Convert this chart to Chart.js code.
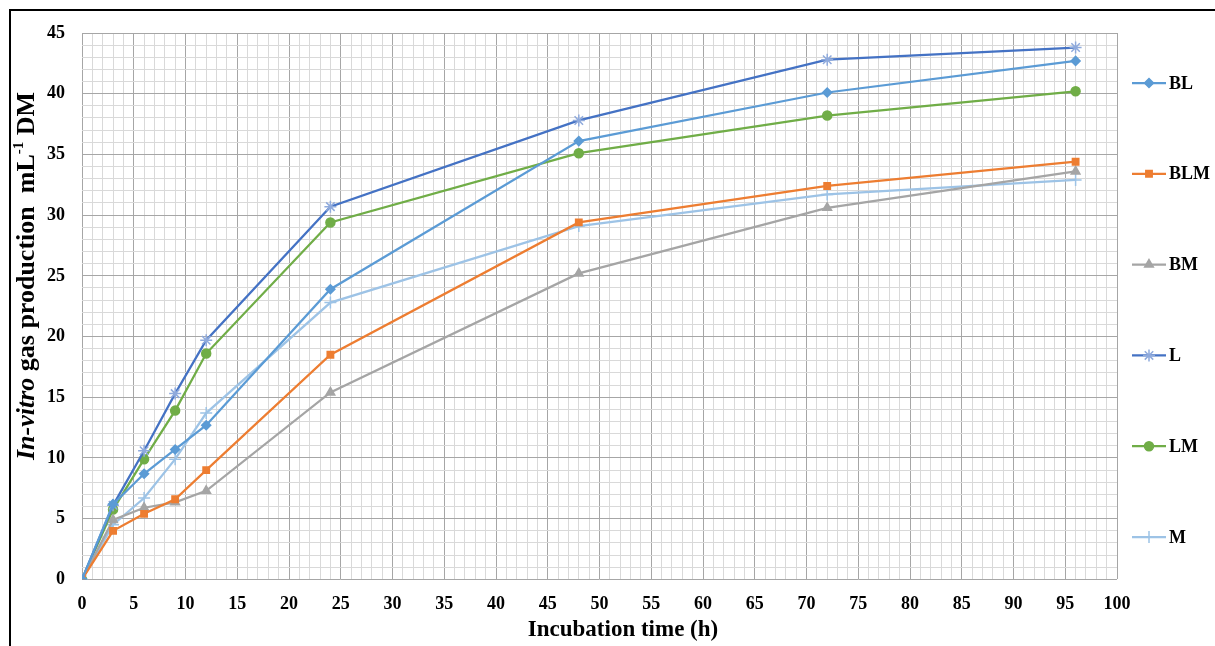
<!DOCTYPE html>
<html>
<head>
<meta charset="utf-8">
<script src="https://cdn.jsdelivr.net/npm/chart.js@4.4.0/dist/chart.umd.min.js"></script>
<style>
  body { margin: 0; background: #fff; }
  #wrap { width: 1215px; height: 646px; position: relative; }
</style>
</head>
<body>
<div id="wrap"><canvas id="gasChart"></canvas></div>
<script>
// Incubation times (h) and gas production per treatment
const hours = [0, 3, 6, 9, 12, 24, 48, 72, 96];
const seriesNames = ['BL', 'BLM', 'BM', 'L', 'LM', 'M'];
const bl  = [0, 6.2, 8.7, 10.7, 12.7, 23.9, 36.1, 40.1, 42.7];
const blm = [0, 4.0, 5.4, 6.6, 9.0, 18.5, 29.4, 32.4, 34.4];
const bm  = [0, 4.9, 5.9, 6.35, 7.3, 15.4, 25.2, 30.6, 33.6];
const l   = [0, 6.1, 10.6, 15.3, 19.7, 30.7, 37.8, 42.8, 43.8];
const lm  = [0, 5.75, 9.9, 13.9, 18.6, 29.4, 35.1, 38.2, 40.2];
const m   = [0, 4.5, 6.7, 9.9, 13.7, 22.8, 29.1, 31.7, 32.9];

const serif = '"Liberation Serif", "Times New Roman", serif';

// estilo de cada série
const styles = [
    { color: '#5B9BD5', mark: '#5B9BD5', pointStyle: 'rectRot', radius: 4.5 },
    { color: '#ED7D31', mark: '#ED7D31', pointStyle: 'rect', radius: 4.5 },
    { color: '#A5A5A5', mark: '#A5A5A5', pointStyle: 'triangle', radius: 5 },
    { color: '#4472C4', mark: '#8FAADC', pointStyle: 'star', radius: 6 },
    { color: '#70AD47', mark: '#70AD47', pointStyle: 'circle', radius: 4.5 },
    { color: '#9DC3E6', mark: '#9DC3E6', pointStyle: 'cross', radius: 6 }
];

const values = [bl, blm, bm, l, lm, m];

function toPoints(vals) {
    return hours.map((h, i) => ({ x: h, y: vals[i] }));
}

const datasets = seriesNames.map((name, i) => ({
    label: name,
    data: toPoints(values[i]),
    borderColor: styles[i].color,
    backgroundColor: styles[i].mark,
    pointBackgroundColor: styles[i].mark,
    pointBorderColor: styles[i].mark,
    pointStyle: styles[i].pointStyle,
    pointRadius: styles[i].radius,
    pointBorderWidth: 1.5,
    borderWidth: 2.25,
    tension: 0
}));

// Grade: linhas menores a cada 1, maiores a cada 5
function gridColor(ctx) {
    if (!ctx.tick) return '#d9d9d9';
    return ctx.tick.value % 5 === 0 ? '#a6a6a6' : '#d9d9d9';
}

function everyFive(value) {
    return value % 5 === 0 ? value : '';
}

// Moldura externa (só topo e esquerda aparecem no recorte)
const framePlugin = {
    id: 'frame',
    beforeDraw(chart) {
        const ctx = chart.ctx;
        ctx.save();
        ctx.strokeStyle = '#000';
        ctx.lineWidth = 2;
        ctx.beginPath();
        ctx.moveTo(10, chart.height + 5);
        ctx.lineTo(10, 10);
        ctx.lineTo(chart.width + 5, 10);
        ctx.stroke();
        ctx.restore();
    }
};

// Títulos dos eixos (Y com itálico e sobrescrito)
const axisTitlePlugin = {
    id: 'axisTitles',
    afterDraw(chart) {
        const ctx = chart.ctx;
        const parts = [
            { t: 'In-vitro', f: 'italic bold 26px ' + serif, dy: 0 },
            { t: ' gas production  mL', f: 'bold 26px ' + serif, dy: 0 },
            { t: '-1', f: 'bold 15px ' + serif, dy: -8 },
            { t: ' DM', f: 'bold 26px ' + serif, dy: 0 }
        ];
        let total = 0;
        parts.forEach(p => { ctx.font = p.f; p.w = ctx.measureText(p.t).width; total += p.w; });
        ctx.save();
        ctx.translate(27, 276);
        ctx.rotate(-Math.PI / 2);
        ctx.fillStyle = '#000';
        ctx.textBaseline = 'middle';
        ctx.textAlign = 'left';
        let x = -total / 2;
        parts.forEach(p => {
            ctx.font = p.f;
            ctx.fillText(p.t, x, p.dy);
            x += p.w;
        });
        ctx.restore();

        ctx.save();
        ctx.fillStyle = '#000';
        ctx.font = 'bold 23px ' + serif;
        ctx.textAlign = 'center';
        ctx.textBaseline = 'middle';
        ctx.fillText('Incubation time (h)', 623, 630);
        ctx.restore();
    }
};

// Legenda à direita: linha + marcador
const legendPlugin = {
    id: 'sideLegend',
    afterDraw(chart) {
        const ctx = chart.ctx;
        const area = chart.chartArea;
        const x0 = area.right + 15;
        const x1 = x0 + 34;
        chart.data.datasets.forEach((ds, i) => {
            const y = area.top + 50 + i * 90.8;
            ctx.save();
            ctx.strokeStyle = ds.borderColor;
            ctx.lineWidth = 2.25;
            ctx.beginPath();
            ctx.moveTo(x0, y);
            ctx.lineTo(x1, y);
            ctx.stroke();
            ctx.fillStyle = ds.pointBackgroundColor;
            ctx.strokeStyle = ds.pointBorderColor;
            ctx.lineWidth = 1.5;
            if (Chart.helpers && Chart.helpers.drawPoint) {
                Chart.helpers.drawPoint(ctx, {
                    pointStyle: ds.pointStyle,
                    radius: ds.pointRadius,
                    rotation: 0,
                    borderWidth: 1.5
                }, (x0 + x1) / 2, y);
            }
            ctx.fillStyle = '#000';
            ctx.font = 'bold 18px ' + serif;
            ctx.textBaseline = 'middle';
            ctx.textAlign = 'left';
            ctx.fillText(ds.label, x1 + 3, y + 1);
            ctx.restore();
        });
    }
};

const ctx = document.getElementById('gasChart').getContext('2d');

const gasChart = new Chart(ctx, {
    type: 'line',
    data: { datasets: datasets },
    plugins: [framePlugin, axisTitlePlugin, legendPlugin],
    options: {
        responsive: true,
        maintainAspectRatio: false,
        animation: false,
        layout: {
            padding: { left: 30, right: 98, top: 33, bottom: 17 }
        },
        plugins: {
            legend: { display: false },
            tooltip: { enabled: false }
        },
        scales: {
            x: {
                type: 'linear',
                min: 0,
                max: 100,
                border: { display: false },
                grid: { color: gridColor, lineWidth: 1, drawTicks: false },
                ticks: {
                    stepSize: 1,
                    autoSkip: false,
                    maxRotation: 0,
                    padding: 14,
                    color: '#000',
                    font: { family: serif, size: 18, weight: 'bold' },
                    callback: everyFive
                }
            },
            y: {
                min: 0,
                max: 45,
                border: { display: false },
                grid: { color: gridColor, lineWidth: 1, drawTicks: false },
                ticks: {
                    stepSize: 1,
                    autoSkip: false,
                    padding: 17,
                    color: '#000',
                    font: { family: serif, size: 18, weight: 'bold' },
                    callback: everyFive
                }
            }
        }
    }
});
</script>
</body>
</html>
